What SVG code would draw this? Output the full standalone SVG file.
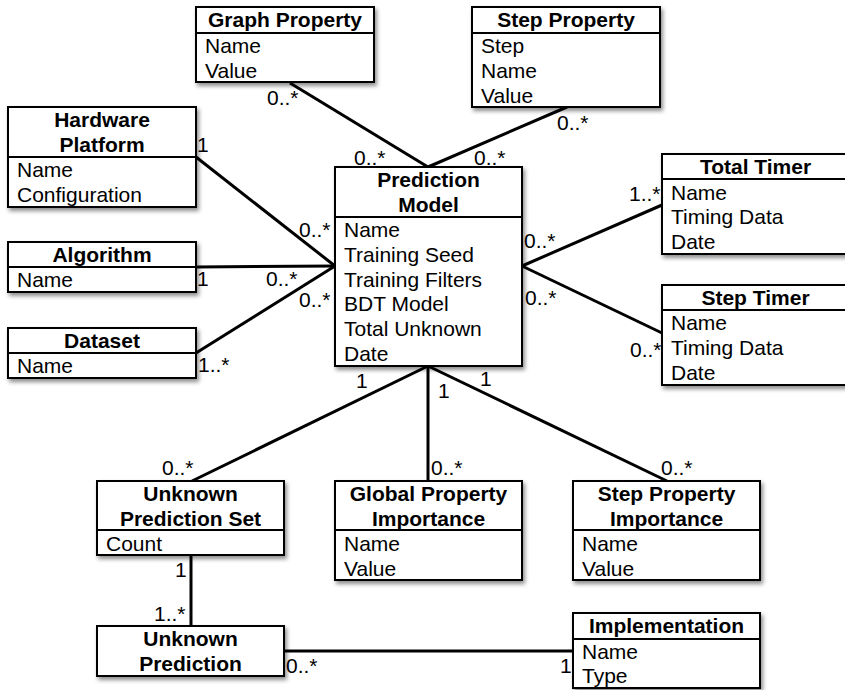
<svg xmlns="http://www.w3.org/2000/svg" width="845" height="690" viewBox="0 0 845 690">
<defs>
<filter id="sh" x="-10%" y="-10%" width="130%" height="140%">
<feDropShadow dx="2" dy="3" stdDeviation="2" flood-color="#000" flood-opacity="0.45"/>
</filter>
<style>
.box{fill:#fff;stroke:#000;stroke-width:2;filter:url(#sh)}
.dv{stroke:#000;stroke-width:2}
.t{font-family:"Liberation Sans",Arial,sans-serif;font-size:21px;font-weight:bold;text-anchor:middle;fill:#000}
.a{font-family:"Liberation Sans",Arial,sans-serif;font-size:21px;fill:#000}
.c line{stroke:#000;stroke-width:3;stroke-linecap:butt}
.m{font-family:"Liberation Sans",Arial,sans-serif;font-size:21px;fill:#000}
</style>
</defs>
<rect width="845" height="690" fill="#fff"/>
<g id="connectors" class="c">
<line x1="290" y1="83" x2="428" y2="167"/>
<line x1="567" y1="107" x2="428" y2="167"/>
<line x1="196" y1="157" x2="335" y2="266"/>
<line x1="196" y1="267" x2="335" y2="266"/>
<line x1="196" y1="353" x2="335" y2="266"/>
<line x1="522" y1="266" x2="662" y2="205"/>
<line x1="522" y1="266" x2="662" y2="333"/>
<line x1="428" y1="366" x2="192" y2="481"/>
<line x1="428" y1="366" x2="428" y2="481"/>
<line x1="428" y1="366" x2="667" y2="481"/>
<line x1="191" y1="555" x2="191" y2="626"/>
<line x1="284" y1="651" x2="573" y2="651"/>
</g>
<g id="labels">
<text class="m" x="267" y="105">0..*</text>
<text class="m" x="197" y="152">1</text>
<text class="m" x="354" y="165">0..*</text>
<text class="m" x="474" y="165">0..*</text>
<text class="m" x="557" y="130">0..*</text>
<text class="m" x="629" y="201">1..*</text>
<text class="m" x="299" y="237">0..*</text>
<text class="m" x="197" y="286">1</text>
<text class="m" x="266" y="286">0..*</text>
<text class="m" x="299" y="307">0..*</text>
<text class="m" x="198" y="372">1..*</text>
<text class="m" x="524" y="248">0..*</text>
<text class="m" x="525" y="305">0..*</text>
<text class="m" x="630" y="357">0..*</text>
<text class="m" x="356" y="388">1</text>
<text class="m" x="438" y="398">1</text>
<text class="m" x="480" y="386">1</text>
<text class="m" x="431" y="475">0..*</text>
<text class="m" x="162" y="475">0..*</text>
<text class="m" x="661" y="475">0..*</text>
<text class="m" x="175" y="577">1</text>
<text class="m" x="154" y="621">1..*</text>
<text class="m" x="286" y="673">0..*</text>
<text class="m" x="560" y="673">1</text>
</g>
<g id="graph-property">
<rect class="box" x="196" y="7" width="178" height="75"/>
<line class="dv" x1="196" y1="33" x2="374" y2="33"/>
<text class="t" x="285" y="27">Graph Property</text>
<text class="a" x="205" y="53">Name</text>
<text class="a" x="205" y="78">Value</text>
</g>
<g id="step-property">
<rect class="box" x="472" y="7" width="188" height="100"/>
<line class="dv" x1="472" y1="33" x2="660" y2="33"/>
<text class="t" x="566" y="27">Step Property</text>
<text class="a" x="481" y="53">Step</text>
<text class="a" x="481" y="78">Name</text>
<text class="a" x="481" y="103">Value</text>
</g>
<g id="hardware-platform">
<rect class="box" x="8" y="107" width="188" height="100"/>
<line class="dv" x1="8" y1="157" x2="196" y2="157"/>
<text class="t" x="102" y="127">Hardware</text>
<text class="t" x="102" y="152">Platform</text>
<text class="a" x="17" y="177">Name</text>
<text class="a" x="17" y="202">Configuration</text>
</g>
<g id="algorithm">
<rect class="box" x="8" y="242" width="188" height="50"/>
<line class="dv" x1="8" y1="267" x2="196" y2="267"/>
<text class="t" x="102" y="262">Algorithm</text>
<text class="a" x="17" y="287">Name</text>
</g>
<g id="dataset">
<rect class="box" x="8" y="328" width="188" height="50"/>
<line class="dv" x1="8" y1="353" x2="196" y2="353"/>
<text class="t" x="102" y="348">Dataset</text>
<text class="a" x="17" y="373">Name</text>
</g>
<g id="prediction-model">
<rect class="box" x="335" y="167" width="187" height="199"/>
<line class="dv" x1="335" y1="217" x2="522" y2="217"/>
<text class="t" x="428.5" y="187">Prediction</text>
<text class="t" x="428.5" y="212">Model</text>
<text class="a" x="344" y="237">Name</text>
<text class="a" x="344" y="262">Training Seed</text>
<text class="a" x="344" y="287">Training Filters</text>
<text class="a" x="344" y="311">BDT Model</text>
<text class="a" x="344" y="336">Total Unknown</text>
<text class="a" x="344" y="361">Date</text>
</g>
<g id="total-timer">
<rect class="box" x="662" y="154" width="187" height="100"/>
<line class="dv" x1="662" y1="179" x2="849" y2="179"/>
<text class="t" x="755.5" y="174">Total Timer</text>
<text class="a" x="671" y="200">Name</text>
<text class="a" x="671" y="224">Timing Data</text>
<text class="a" x="671" y="249">Date</text>
</g>
<g id="step-timer">
<rect class="box" x="662" y="285" width="187" height="100"/>
<line class="dv" x1="662" y1="310" x2="849" y2="310"/>
<text class="t" x="755.5" y="305">Step Timer</text>
<text class="a" x="671" y="330">Name</text>
<text class="a" x="671" y="355">Timing Data</text>
<text class="a" x="671" y="380">Date</text>
</g>
<g id="unknown-prediction-set">
<rect class="box" x="97" y="481" width="187" height="74"/>
<line class="dv" x1="97" y1="530" x2="284" y2="530"/>
<text class="t" x="190.5" y="501">Unknown</text>
<text class="t" x="190.5" y="526">Prediction Set</text>
<text class="a" x="106" y="551">Count</text>
</g>
<g id="global-property-importance">
<rect class="box" x="335" y="481" width="187" height="99"/>
<line class="dv" x1="335" y1="530" x2="522" y2="530"/>
<text class="t" x="428.5" y="501">Global Property</text>
<text class="t" x="428.5" y="526">Importance</text>
<text class="a" x="344" y="551">Name</text>
<text class="a" x="344" y="576">Value</text>
</g>
<g id="step-property-importance">
<rect class="box" x="573" y="481" width="187" height="99"/>
<line class="dv" x1="573" y1="530" x2="760" y2="530"/>
<text class="t" x="666.5" y="501">Step Property</text>
<text class="t" x="666.5" y="526">Importance</text>
<text class="a" x="582" y="551">Name</text>
<text class="a" x="582" y="576">Value</text>
</g>
<g id="unknown-prediction">
<rect class="box" x="97" y="626" width="187" height="50"/>
<text class="t" x="190.5" y="646">Unknown</text>
<text class="t" x="190.5" y="671">Prediction</text>
</g>
<g id="implementation">
<rect class="box" x="573" y="613" width="187" height="75"/>
<line class="dv" x1="573" y1="639" x2="760" y2="639"/>
<text class="t" x="666.5" y="633">Implementation</text>
<text class="a" x="582" y="659">Name</text>
<text class="a" x="582" y="683">Type</text>
</g>
</svg>
